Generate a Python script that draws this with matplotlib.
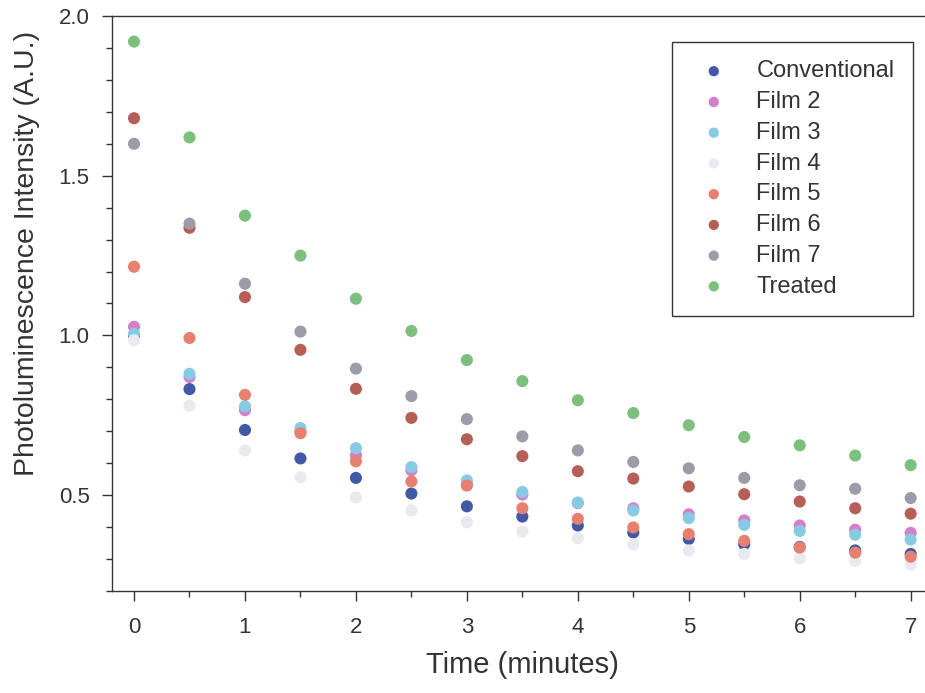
#!/usr/bin/env python3
"""Photoluminescence decay of the film series"""
import matplotlib
matplotlib.use('Agg')
import matplotlib.pyplot as plt
from matplotlib.ticker import MultipleLocator

plt.rcParams['font.family'] = ['Liberation Sans', 'DejaVu Sans']

time_min = [0, 0.5, 1, 1.5, 2, 2.5, 3, 3.5, 4, 4.5, 5, 5.5, 6, 6.5, 7]

conventional = [1.00, 0.832, 0.704, 0.615, 0.554, 0.505, 0.465, 0.433, 0.405, 0.383, 0.363, 0.346, 0.338, 0.327, 0.316]
film2 = [1.027, 0.87, 0.766, 0.70, 0.625, 0.578, 0.535, 0.502, 0.475, 0.459, 0.440, 0.421, 0.405, 0.392, 0.382]
film3 = [1.005, 0.88, 0.778, 0.71, 0.647, 0.588, 0.546, 0.510, 0.477, 0.452, 0.428, 0.407, 0.388, 0.376, 0.361]
film4 = [0.985, 0.78, 0.640, 0.556, 0.493, 0.452, 0.415, 0.386, 0.365, 0.346, 0.327, 0.316, 0.302, 0.294, 0.283]
film5 = [1.215, 0.992, 0.814, 0.694, 0.606, 0.543, 0.530, 0.459, 0.426, 0.399, 0.378, 0.357, 0.336, 0.320, 0.307]
film6 = [1.68, 1.337, 1.12, 0.955, 0.833, 0.742, 0.675, 0.622, 0.575, 0.552, 0.527, 0.503, 0.480, 0.459, 0.442]
film7 = [1.60, 1.35, 1.162, 1.012, 0.896, 0.810, 0.738, 0.684, 0.640, 0.604, 0.584, 0.554, 0.531, 0.520, 0.491]
treated = [1.92, 1.62, 1.375, 1.25, 1.115, 1.014, 0.923, 0.857, 0.797, 0.757, 0.719, 0.682, 0.656, 0.624, 0.594]

labels = ['Conventional', 'Film 2', 'Film 3', 'Film 4', 'Film 5', 'Film 6', 'Film 7', 'Treated']
series = [conventional, film2, film3, film4, film5, film6, film7, treated]
colors = ['#4459a6', '#d57fc8', '#86cbe3', '#e9e9ef', '#e8806f', '#b65f57', '#9c9ca8', '#7dbf7e']

TEXT = '#333333'

fig = plt.figure(figsize=(9.25, 6.93), dpi=100)
ax = fig.add_axes([0.1209, 0.1472, 0.8876, 0.8297])

for lab, vals, c in zip(labels, series, colors):
    ax.scatter(time_min, vals, s=76, color=c, edgecolors='none', label=lab, zorder=3)

ax.set_xlim(-0.2, 7.2)
ax.set_ylim(0.2, 2.0)
ax.set_xticks(range(0, 8))
ax.xaxis.set_minor_locator(MultipleLocator(0.5))
ax.set_yticks([0.5, 1.0, 1.5, 2.0])
ax.yaxis.set_minor_locator(MultipleLocator(0.1))

ax.tick_params(axis='both', which='major', direction='out', length=7, width=1,
               color=TEXT, labelcolor=TEXT, labelsize=16)
ax.tick_params(axis='x', which='major', pad=12)
ax.tick_params(axis='y', which='major', pad=9)
ax.tick_params(axis='both', which='minor', direction='out', length=4, width=1, color=TEXT)
ax.tick_params(top=False, right=False, which='both')

for side in ['left', 'bottom', 'top', 'right']:
    ax.spines[side].set_color(TEXT)
    ax.spines[side].set_linewidth(1.0)

ax.set_xlabel('Time (minutes)', fontsize=21, color=TEXT, labelpad=9)
ax.set_ylabel('Photoluminescence Intensity (A.U.)', fontsize=20.5, color=TEXT)
# label sits above the axes centre in the original
ax.yaxis.set_label_coords(-0.1035, 0.587)
ax.yaxis.label.set_va('center')

leg = ax.legend(loc='upper right', bbox_to_anchor=(0.9756, 0.9548), borderaxespad=0,
                fontsize=17, frameon=True, fancybox=False, framealpha=1,
                borderpad=0.78, handletextpad=0.8, handlelength=2.0,
                labelspacing=0.37, markerscale=0.85)
leg.get_frame().set_edgecolor(TEXT)
leg.get_frame().set_linewidth(1.0)
for t in leg.get_texts():
    t.set_color(TEXT)

plt.savefig('out.png', dpi=100)
plt.close()
